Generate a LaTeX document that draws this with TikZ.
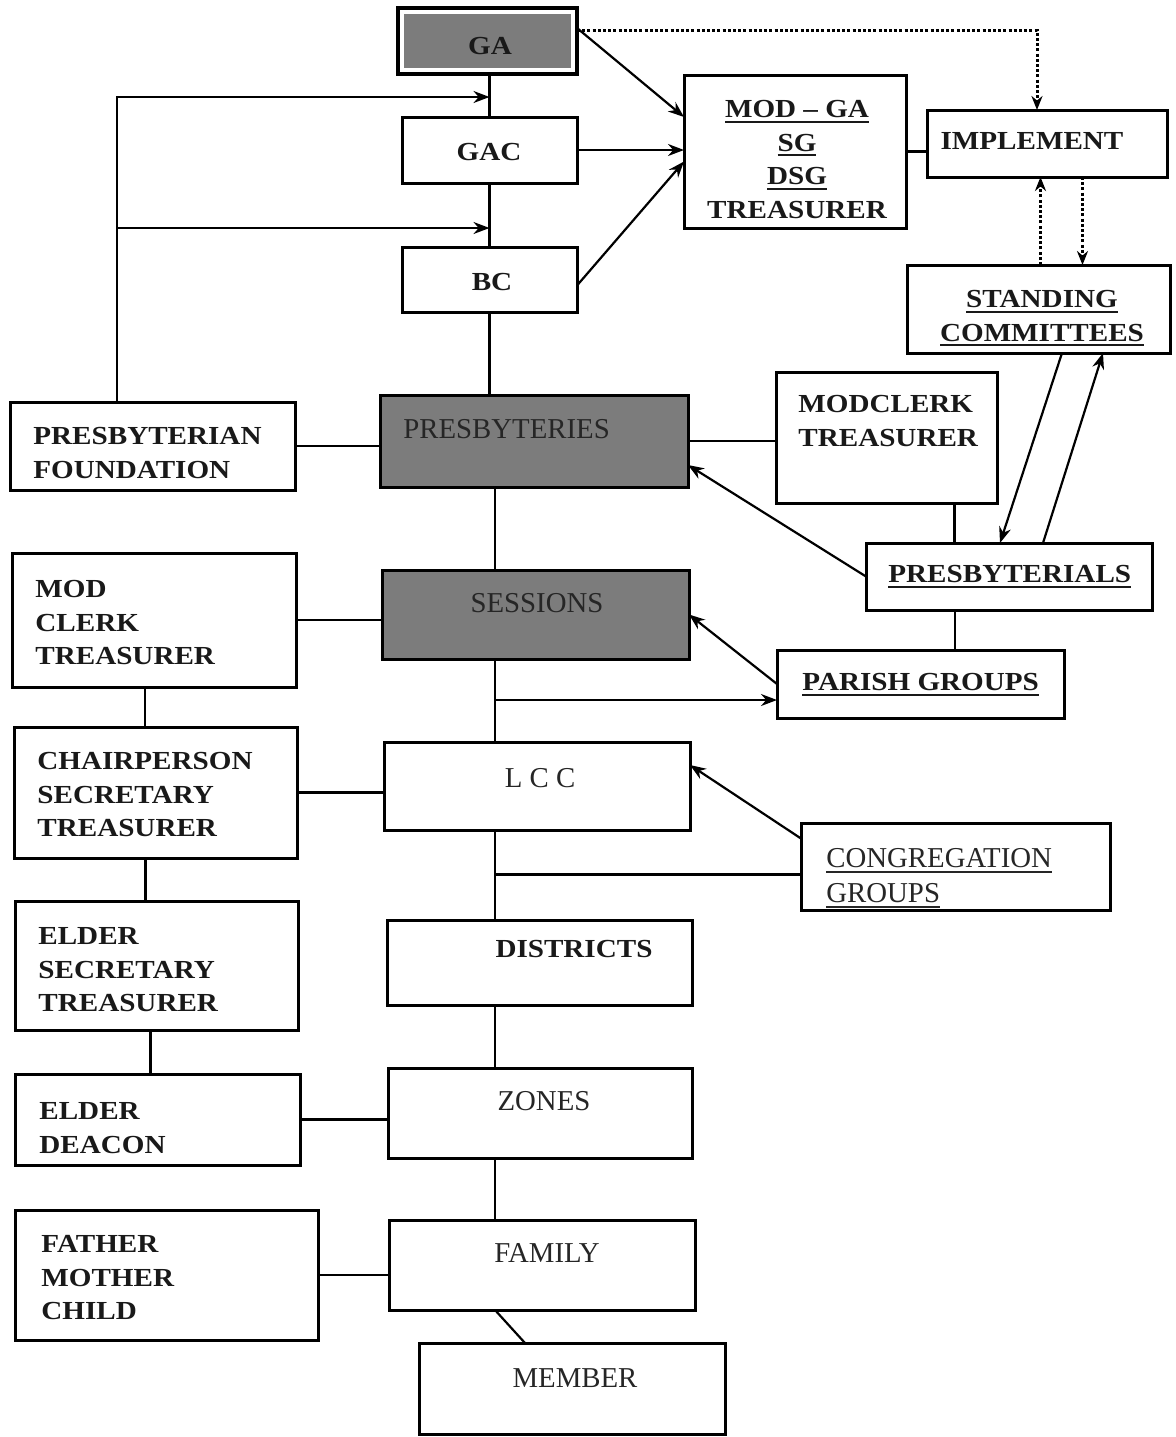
\documentclass[tikz,border=0pt]{standalone}
\usepackage{fontspec}
\setmainfont{Liberation Serif}
\newfontfamily\bfam{Liberation Serif}[FakeStretch=1.12]
\usetikzlibrary{arrows.meta,calc}
\definecolor{boxgray}{RGB}{124,124,124}
\definecolor{darktext}{RGB}{38,38,38}
\definecolor{inktext}{RGB}{25,25,25}
\newcommand\btxt{\bfam\bfseries\fontsize{13}{16.8}\selectfont}
\newcommand\rtxt{\rmfamily\fontsize{14.4}{17.5}\selectfont}
\newcommand\ul[1]{\leavevmode\vtop{\hbox{#1}\kern1.4pt\hrule height 1pt}}
\newcommand\bx[6][]{\node[box,#1,minimum width={(#4-#2)/2},minimum height={(#5-#3)/2}] (#6) at ({(#2+#4)/2},{(#3+#5)/2}) {};}
\tikzset{
  box/.style={draw, line width=1.5pt, inner sep=0pt, outer sep=0pt},
  grayfill/.style={fill=boxgray},
  gabox/.style={line width=1.8pt, path picture={\fill[boxgray] ([shift={(2.8pt,-2.8pt)}]path picture bounding box.north west) rectangle ([shift={(-2.8pt,2.8pt)}]path picture bounding box.south east);}},
  bt/.style={font=\btxt, inner sep=0pt, align=left, text=inktext},
  rt/.style={font=\rtxt, inner sep=0pt, align=left, text=darktext},
  con/.style={line width=1.1pt},
  arr/.style={con, -{Stealth[length=8pt,width=6pt]}},
  dotarr/.style={line width=1.5pt, dash pattern=on 1.5pt off 1.1pt, -{Stealth[length=7pt,width=5.5pt]}},
}
\begin{document}
\begin{tikzpicture}[x=0.5pt,y=-0.5pt]
\useasboundingbox[fill=white] (0,0) rectangle (1175,1437);
% boxes
\bx[gabox]{398}{8}{577}{74}{ga}
\bx{402}{117}{577}{183}{gac}
\bx{402}{247}{577}{312}{bc}
\bx{684}{75}{906}{228}{modga}
\bx{927}{110}{1167}{177}{impl}
\bx{907}{265}{1170}{353}{stand}
\bx{10}{402}{295}{490}{pf}
\bx[grayfill]{380}{395}{688}{487}{pres}
\bx{776}{372}{997}{503}{mct}
\bx{866}{543}{1152}{610}{prsl}
\bx{12}{553}{296}{687}{mcl}
\bx[grayfill]{382}{570}{689}{659}{sess}
\bx{777}{650}{1064}{718}{parish}
\bx{14}{727}{297}{858}{chair}
\bx{384}{742}{690}{830}{lcc}
\bx{801}{823}{1110}{910}{cong}
\bx{15}{901}{298}{1030}{eldsec}
\bx{387}{920}{692}{1005}{dist}
\bx{15}{1074}{300}{1165}{elddea}
\bx{388}{1068}{692}{1158}{zones}
\bx{15}{1210}{318}{1340}{fmc}
\bx{389}{1220}{695}{1310}{family}
\bx{419}{1343}{725}{1434}{member}
% texts
\node[bt, anchor=north] (ga-t) at (490,37) {GA};
\node[bt, anchor=north] (gac-t) at (489,143) {GAC};
\node[bt, anchor=north] (bc-t) at (492,273) {BC};
\node[bt, anchor=north, align=center] (modga-t) at (797,100) {\ul{MOD – GA}\\\ul{SG}\\\ul{DSG}\\TREASURER};
\node[bt, anchor=north] (impl-t) at (1032,132) {IMPLEMENT};
\node[bt, anchor=north, align=center] (stand-t) at (1042,290) {\ul{STANDING}\\\ul{COMMITTEES}};
\node[bt, anchor=north west] (pf-t) at (33,427) {PRESBYTERIAN\\FOUNDATION};
\node[rt, anchor=north west] (pres-t) at (403,419) {PRESBYTERIES};
\node[bt, anchor=north west] (mct-t) at (798,395) {MODCLERK\\TREASURER};
\node[bt, anchor=north west] (prsl-t) at (888,565) {\ul{PRESBYTERIALS}};
\node[bt, anchor=north west] (mcl-t) at (35,580) {MOD\\CLERK\\TREASURER};
\node[rt, anchor=north] (sess-t) at (537,593) {SESSIONS};
\node[bt, anchor=north west] (parish-t) at (802,673) {\ul{PARISH GROUPS}};
\node[bt, anchor=north west] (chair-t) at (37,752) {CHAIRPERSON\\SECRETARY\\TREASURER};
\node[rt, anchor=north] (lcc-t) at (540,768) {L C C};
\node[rt, anchor=north west] (cong-t) at (826,848) {\ul{CONGREGATION}\\\ul{GROUPS}};
\node[bt, anchor=north west] (eldsec-t) at (38,927) {ELDER\\SECRETARY\\TREASURER};
\node[bt, anchor=north] (dist-t) at (574,940) {DISTRICTS};
\node[bt, anchor=north west] (elddea-t) at (39,1102) {ELDER\\DEACON};
\node[rt, anchor=north] (zones-t) at (544,1091) {ZONES};
\node[bt, anchor=north west] (fmc-t) at (41,1235) {FATHER\\MOTHER\\CHILD};
\node[rt, anchor=north] (family-t) at (547,1243) {FAMILY};
\node[rt, anchor=north] (member-t) at (575,1368) {MEMBER};
% helper coordinates
\coordinate (spx) at (495,0);
\coordinate (j1) at (489.5,97);
\coordinate (j2) at (489.5,228);
\coordinate (b1) at (117,97);
\coordinate (b2) at (117,228);
\coordinate (pj) at ([yshift=-8pt]parish.west);
\coordinate (cj) at ([yshift=-4pt]cong.west);
% spine
\draw[con] (gac.north |- ga.south) -- (gac.north);
\draw[con] (gac.south) -- (bc.north);
\draw[con] (bc.south) -- (bc.south |- pres.north);
\draw[con] (pres.south -| spx) -- (sess.north -| spx);
\draw[con] (sess.south -| spx) -- (lcc.north -| spx);
\draw[con] (lcc.south -| spx) -- (dist.north -| spx);
\draw[con] (dist.south -| spx) -- (zones.north -| spx);
\draw[con] (zones.south -| spx) -- (family.north -| spx);
\draw[con] (family.south -| spx) -- ([xshift=-23.5pt]member.north);
% left feed arrows
\draw[arr] (pf.north -| b1) -- (b1) -- (j1);
\draw[arr] (b2) -- (j2);
% top right
\draw[arr] ([yshift=-10pt]ga.north east) -- ([yshift=17.25pt]modga.west);
\draw[arr] (gac.east) -- (gac.east -| modga.west);
\draw[arr] ([yshift=-3pt]bc.east) -- ([yshift=-5pt]modga.west);
\draw[con] (modga.east) -- (modga.east -| impl.west);
\draw[dotarr] ([yshift=-11pt]ga.north east) -| ([xshift=-5pt]impl.north);
\draw[dotarr] ([xshift=1pt]stand.north) -- ([xshift=1pt]stand.north |- impl.south);
\draw[dotarr] ([xshift=22pt]stand.north |- impl.south) -- ([xshift=22pt]stand.north);
\draw[arr] ([xshift=11.75pt]stand.south) -- ([xshift=-4.5pt]prsl.north);
\draw[arr] ([xshift=17pt]prsl.north) -- ([xshift=32.25pt]stand.south);
% middle right
\draw[con] (pres.east) -- (pres.east -| mct.west);
\draw[con] ([xshift=34pt]mct.south) -- ([xshift=34pt]mct.south |- prsl.north);
\draw[arr] (prsl.west) -- ([yshift=-12pt]pres.east);
\draw[con] ([xshift=-27pt]prsl.south) -- ([xshift=-27pt]prsl.south |- parish.north);
\draw[arr] (parish.west) -- (sess.east);
\draw[arr] (pj -| spx) -- (pj);
\draw[arr] ([yshift=14pt]cong.west) -- ([yshift=10.5pt]lcc.east);
\draw[con] (cj -| spx) -- (cj);
% left column
\draw[con] (pf.east) -- (pf.east -| pres.west);
\draw[con] (mcl.east) -- (mcl.east -| sess.west);
\draw[con] ([xshift=-4.5pt]mcl.south) -- ([xshift=-4.5pt]mcl.south |- chair.north);
\draw[con] (chair.east) -- (chair.east -| lcc.west);
\draw[con] ([xshift=-5pt]chair.south) -- ([xshift=-5pt]chair.south |- eldsec.north);
\draw[con] ([xshift=-3pt]eldsec.south) -- ([xshift=-3pt]eldsec.south |- elddea.north);
\draw[con] (elddea.east) -- (elddea.east -| zones.west);
\draw[con] (fmc.east) -- (fmc.east -| family.west);
\end{tikzpicture}
\end{document}
